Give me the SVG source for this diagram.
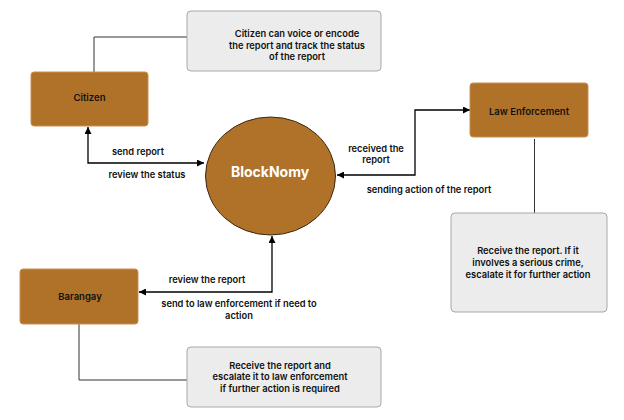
<svg xmlns="http://www.w3.org/2000/svg" width="624" height="420" viewBox="0 0 624 420">
<style>
.node{fill:#B07129;stroke:#C99152;stroke-width:1}
.note{fill:#ECECEC;stroke:#A8A8A8;stroke-width:1}
.t{font-family:Inter,"Liberation Sans",sans-serif;font-weight:600;font-size:9.3px;fill:#111;text-anchor:middle}
.nt{font-family:Inter,"Liberation Sans",sans-serif;font-weight:600;font-size:9.5px;fill:#111;text-anchor:middle}
.big{font-family:Inter,"Liberation Sans",sans-serif;font-weight:700;font-size:14px;fill:#fff;text-anchor:middle}
.arr{fill:none;stroke:#000;stroke-width:1.3}
.ln{fill:none;stroke:#333;stroke-width:1}
</style>
<defs>
<marker id="ah" viewBox="0 0 10 10" refX="10" refY="5" markerWidth="7" markerHeight="7" markerUnits="userSpaceOnUse" orient="auto-start-reverse">
<path d="M0 0 L10 5 L0 10 Z" fill="#000"/>
</marker>
</defs>
<rect width="624" height="420" fill="#fff"/>
<g id="connectors">
<path class="ln" d="M94 72 V37 H187"/>
<path class="ln" d="M534.5 139 V213"/>
<path class="ln" d="M79 324 V380 H187"/>
<path class="arr" d="M88 127 V163 H204" marker-start="url(#ah)" marker-end="url(#ah)"/>
<path class="arr" d="M337 175 H415 V110 H470" marker-start="url(#ah)" marker-end="url(#ah)"/>
<path class="arr" d="M272 236 V292 H139" marker-start="url(#ah)" marker-end="url(#ah)"/>
<text class="t" x="138" y="155">send report</text>
<text class="t" x="147" y="178">review the status</text>
<text class="t" x="376" y="152">received the</text>
<text class="t" x="376" y="163">report</text>
<text class="t" x="429" y="193">sending action of the report</text>
<text class="t" x="207" y="283">review the report</text>
<text class="t" x="239" y="307">send to law enforcement if need to</text>
<text class="t" x="239" y="319">action</text>
</g>
<g id="citizen">
<rect class="node" x="31" y="72" width="117" height="54" rx="3"/>
<text class="nt" x="89.5" y="100.5">Citizen</text>
</g>
<g id="citizen-note">
<rect class="note" x="187" y="11" width="194" height="60" rx="4"/>
<text class="t" x="297" y="37">Citizen can voice or encode</text>
<text class="t" x="297" y="49">the report and track the status</text>
<text class="t" x="297" y="60">of the report</text>
</g>
<g id="blocknomy">
<ellipse cx="270.5" cy="176" rx="65" ry="59" fill="#B07129" stroke="#3b2a14" stroke-width="1"/>
<text class="big" x="270" y="177">BlockNomy</text>
</g>
<g id="law-enforcement">
<rect class="node" x="470" y="83" width="118" height="54" rx="3"/>
<text class="nt" x="529" y="115">Law Enforcement</text>
</g>
<g id="law-note">
<rect class="note" x="451" y="213" width="156" height="99" rx="4"/>
<text class="t" x="528" y="254">Receive the report. If it</text>
<text class="t" x="528" y="266">involves a serious crime,</text>
<text class="t" x="528" y="278">escalate it for further action</text>
</g>
<g id="barangay">
<rect class="node" x="20" y="269" width="118" height="55" rx="3"/>
<text class="nt" x="80" y="300">Barangay</text>
</g>
<g id="barangay-note">
<rect class="note" x="187" y="347" width="194" height="60" rx="4"/>
<text class="t" x="280" y="369">Receive the report and</text>
<text class="t" x="280" y="380">escalate it to law enforcement</text>
<text class="t" x="280" y="392">if further action is required</text>
</g>
</svg>
